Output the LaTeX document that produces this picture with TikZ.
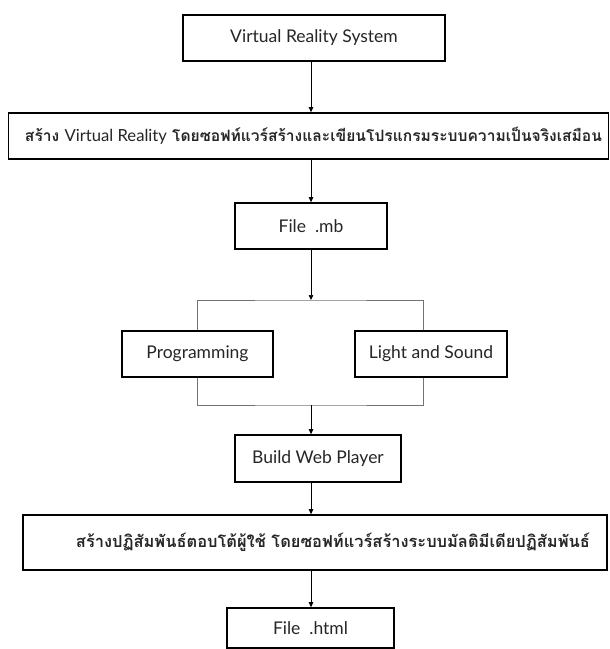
\documentclass[tikz,border=0pt]{standalone}
\usepackage{fontspec}
\setmainfont{Lato}
\newfontfamily\thaifont[Script=Thai]{Loma}
\usetikzlibrary{arrows.meta}
\newcommand{\lat}[1]{{\rmfamily\mdseries\fontsize{16}{18}\selectfont #1}}
\begin{document}
\begin{tikzpicture}[x=1pt,y=-1pt,
  box/.style={draw=black,line width=1.6pt,fill=white,text=black!85,inner sep=0pt,font=\fontsize{17.5}{19}\selectfont},
  arr/.style={draw=black,line width=0.7pt,-{Triangle[length=5pt,width=4.5pt]}},
  br/.style={draw=black!55,line width=0.8pt}]
\useasboundingbox[fill=white] (0,0) rectangle (610,649);
\node[box,minimum width=262pt,minimum height=46pt] (b1) at (314,38) {Virtual Reality System};
\node[box,minimum width=600pt,minimum height=46pt] (b2) at (308.5,136) {};
\node[text=black!85,inner sep=0pt] (t2) at (313.5,136) {\resizebox{577pt}{!}{\thaifont\bfseries\fontsize{15}{17}\selectfont สร้าง \lat{Virtual Reality} โดยซอฟท์แวร์สร้างและเขียนโปรแกรมระบบความเป็นจริงเสมือน}};
\node[box,minimum width=152pt,minimum height=46pt] (b3) at (311,226) {File\ \ .mb};
\node[box,minimum width=151pt,minimum height=46pt] (prog) at (197.5,354) {Programming};
\node[box,minimum width=152pt,minimum height=46pt] (light) at (431,354) {Light and Sound};
\node[box,minimum width=166pt,minimum height=47pt] (build) at (318,458.5) {Build Web Player};
\node[box,minimum width=584pt,minimum height=55pt] (b4) at (315,542.5) {};
\node[text=black!85,inner sep=0pt] (t4) at (333,542) {\resizebox{514pt}{!}{\thaifont\bfseries\fontsize{15}{17}\selectfont สร้างปฏิสัมพันธ์ตอบโต้ผู้ใช้ โดยซอฟท์แวร์สร้างระบบมัลติมีเดียปฏิสัมพันธ์}};
\node[box,minimum width=167pt,minimum height=40pt] (b5) at (310.5,628) {File\ \ .html};
\coordinate (fork) at (311,300);
\coordinate (join) at (311,405);
\draw[arr] (b1.south -| b3) -- (b2.north -| b3);
\draw[arr] (b2.south -| b3) -- (b3.north);
\draw[arr] (b3.south) -- (fork);
\draw[br] (prog.north) |- (fork) -| ([xshift=-8pt]light.north);
\draw[br] (prog.south) |- (join) -| ([xshift=-8pt]light.south);
\draw[arr] (join) -- (build.north -| join);
\draw[arr] (build.south -| b3) -- (b4.north -| b3);
\draw[arr] (b4.south -| b3) -- (b5.north -| b3);
\end{tikzpicture}
\end{document}
